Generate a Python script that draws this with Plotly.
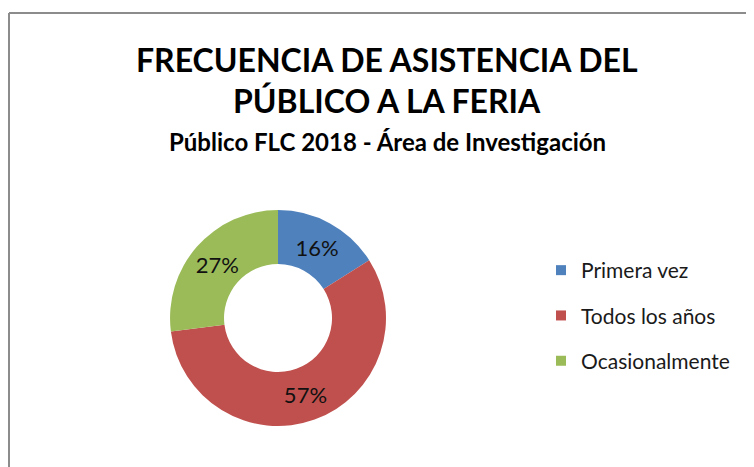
import plotly.graph_objects as go

categories = ["Primera vez", "Todos los años", "Ocasionalmente"]
values = [16, 57, 27]
colors = ["#4F81BD", "#C0504D", "#9BBB59"]

title_lines = ["FRECUENCIA DE ASISTENCIA DEL", "PÚBLICO A LA FERIA"]
subtitle = "Público FLC 2018 - Área de Investigación"

# page body adds an 8px offset; figure is sized to fill the rest of the window
W, H = 746, 459
FONT = "Lato"

fig = go.Figure()
fig.add_trace(go.Pie(
    labels=categories, values=values, hole=0.5, sort=False, direction="clockwise",
    rotation=0, marker=dict(colors=colors, line=dict(width=0)),
    textinfo="percent", texttemplate="%{percent:.0%}", textposition="inside",
    insidetextorientation="horizontal",
    textfont=dict(family=FONT, size=22, color="#111111"),
    showlegend=False, domain=dict(x=[0.2172, 0.5067], y=[0.0893, 0.5599]),
))
for i, (c, col) in enumerate(zip(categories, colors)):
    fig.add_trace(go.Scatter(
        x=[None], y=[None], mode="markers", name=c, legendgroup=f"g{i}",
        marker=dict(symbol="square", size=10, color=col),
    ))

fig.update_xaxes(visible=False)
fig.update_yaxes(visible=False)

ann = [
    dict(text=f"<b>{title_lines[0]}</b>", x=379/W, y=1 - 52/H, font=dict(size=32)),
    dict(text=f"<b>{title_lines[1]}</b>", x=379/W, y=1 - 93/H, font=dict(size=32)),
    dict(text=f"<b>{subtitle}</b>", x=379/W, y=1 - 133/H, font=dict(size=24)),
]
for a in ann:
    a.update(xref="paper", yref="paper", xanchor="center", yanchor="middle", showarrow=False)
    a["font"].update(family=FONT, color="#000000")

fig.update_layout(
    width=W, height=H, margin=dict(l=0, r=0, t=0, b=0),
    paper_bgcolor="white", plot_bgcolor="white",
    annotations=ann,
    legend=dict(x=533/W, y=1 - 242/H, xanchor="left", yanchor="top",
                font=dict(family=FONT, size=21, color="#1a1a1a"),
                tracegroupgap=15, traceorder="grouped", itemwidth=30),
    shapes=[
        dict(type="line", xref="paper", yref="paper", x0=1/W, x1=1/W, y0=0, y1=1 - 5/H,
             line=dict(color="#8C8C8C", width=2)),
        dict(type="line", xref="paper", yref="paper", x0=1/W, x1=1, y0=1 - 5/H, y1=1 - 5/H,
             line=dict(color="#8C8C8C", width=2)),
    ],
)
fig.write_html("out.html")
